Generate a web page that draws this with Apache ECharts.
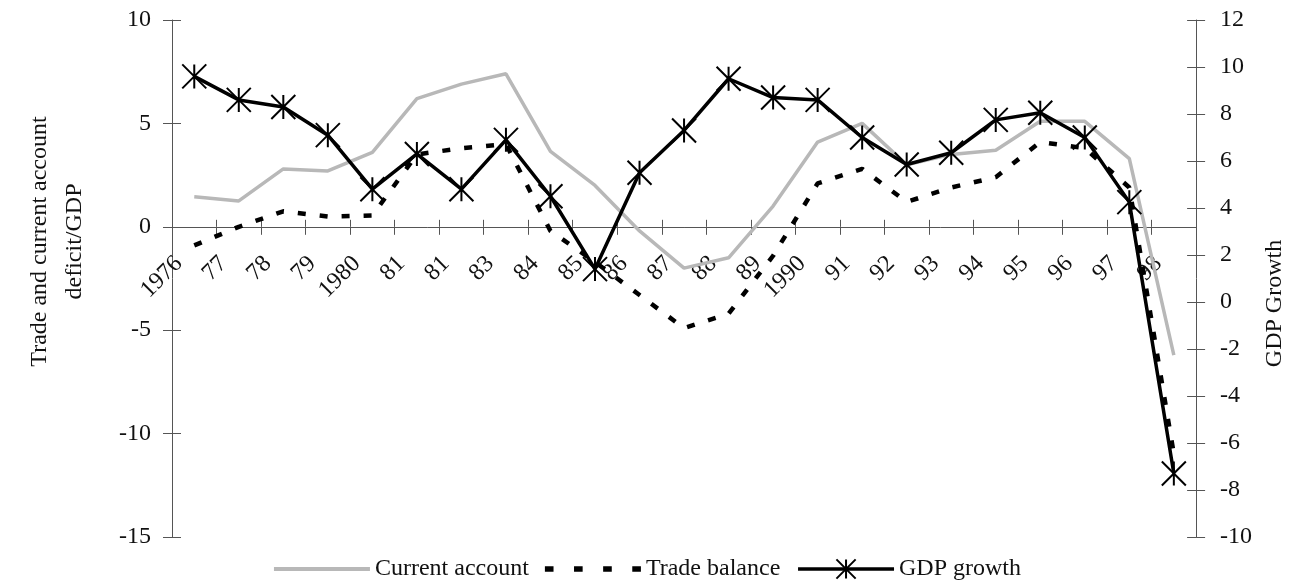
<!DOCTYPE html>
<html>
<head>
<meta charset="utf-8">
<script src="https://cdn.jsdelivr.net/npm/echarts@6/dist/echarts.min.js"></script>
<style>
  html, body { margin: 0; padding: 0; background: #fff; }
  #chart { width: 1295px; height: 586px; }
</style>
</head>
<body>
<div id="chart"></div>
<script>
// ---- data ----
const categories = ['1976','77','78','79','1980','81','81','83','84','85','86','87','88','89','1990','91','92','93','94','95','96','97','98'];
const currentAccount = [1.45, 1.25, 2.8, 2.7, 3.6, 6.2, 6.9, 7.4, 3.65, 2.0, -0.2, -2.0, -1.5, 1.0, 4.1, 5.0, 3.0, 3.5, 3.7, 5.1, 5.1, 3.3, -6.2];
const tradeBalance = [-0.9, 0.0, 0.75, 0.5, 0.55, 3.5, 3.8, 4.0, -0.2, -1.7, -3.3, -4.9, -4.2, -1.4, 2.1, 2.8, 1.2, 1.9, 2.4, 4.1, 3.8, 1.9, -11.0];
const gdpGrowth = [9.6, 8.6, 8.3, 7.1, 4.8, 6.3, 4.8, 6.9, 4.5, 1.4, 5.5, 7.3, 9.5, 8.7, 8.6, 7.0, 5.85, 6.35, 7.75, 8.05, 7.0, 4.25, -7.3];
const leftAxisRange = [-15, 10, 5];   // min, max, interval
const rightAxisRange = [-10, 12, 2];  // min, max, interval
const seriesNames = ['Current account', 'Trade balance', 'GDP growth'];
const leftAxisTitle = 'Trade and current account\ndeficit/GDP';
const rightAxisTitle = 'GDP Growth';

const FONT = '"Liberation Serif", "DejaVu Serif", serif';
const TXT = '#111';
const AX = '#555';
const GREY = '#b8b8b8';
const starPath = 'path://M-10,-10L10,10M-10,10L10,-10M0,-10L0,10';
const barIcon = 'path://M0,0H100V4H0Z';
const dashIcon = 'path://M0,0h8v5h-8zM27,0h8v5h-8zM54,0h8v5h-8zM81,0h8v5h-8z';

const W = 1295, H = 586;
const GRID = { left: 172, right: 97, top: 20, bottom: 49 };

const chart = echarts.init(document.getElementById('chart'), null, { renderer: 'canvas' });

function yAxisBase(range, pos, inside, withLabels) {
  return {
    type: 'value',
    position: pos,
    min: range[0], max: range[1], interval: range[2],
    splitLine: { show: false },
    axisLine: { show: withLabels, onZero: false, lineStyle: { color: AX, width: 1 } },
    axisTick: { show: true, inside: inside, length: 9, lineStyle: { color: AX, width: 1 } },
    axisLabel: { show: withLabels, color: TXT, fontFamily: FONT, fontSize: 24, margin: 21 }
  };
}

const yLeft = Object.assign(yAxisBase(leftAxisRange, 'left', false, true), {
  name: leftAxisTitle, nameLocation: 'middle', nameGap: 80, nameRotate: 90,
  nameTextStyle: { color: TXT, fontFamily: FONT, fontSize: 24, lineHeight: 35, padding: [0, 0, 0, 74] }
});
const yRight = Object.assign(yAxisBase(rightAxisRange, 'right', false, true), {
  name: rightAxisTitle, nameLocation: 'middle', nameGap: 56, nameRotate: 90,
  nameTextStyle: { color: TXT, fontFamily: FONT, fontSize: 24, padding: [0, 50, 0, 0] }
});
yRight.axisLabel.margin = 24;
const yLeftIn = yAxisBase(leftAxisRange, 'left', true, false);
const yRightIn = yAxisBase(rightAxisRange, 'right', true, false);

const option = {
  backgroundColor: '#fff',
  animation: false,
  grid: Object.assign({ containLabel: false }, GRID),
  legend: {
    bottom: 0, left: 'center',
    itemWidth: 96, itemHeight: 24, itemGap: 16,
    textStyle: { color: TXT, fontFamily: FONT, fontSize: 24 },
    data: [
      { name: seriesNames[0], icon: barIcon },
      { name: seriesNames[1], icon: dashIcon },
      { name: seriesNames[2], lineStyle: { width: 3.5, color: '#000' } }
    ]
  },
  xAxis: [
    {
      type: 'category', data: categories, boundaryGap: true,
      axisLine: { onZero: true, onZeroAxisIndex: 0, lineStyle: { color: AX, width: 1 } },
      axisTick: { show: true, length: 8, lineStyle: { color: AX } },
      axisLabel: { show: false },
      splitLine: { show: false }
    },
    {
      type: 'category', data: categories, boundaryGap: true, position: 'bottom',
      axisLine: { show: false, onZero: true, onZeroAxisIndex: 0 },
      axisTick: { show: true, inside: true, length: 7, lineStyle: { color: AX } },
      axisLabel: { show: false },
      splitLine: { show: false }
    },
    {
      type: 'category', data: categories, boundaryGap: true, position: 'bottom', offset: 0,
      axisLine: { show: false, onZero: false },
      axisTick: { show: false },
      axisLabel: { rotate: 45, color: TXT, fontFamily: FONT, fontSize: 24, margin: 37, padding: [0, 22, 0, 0], interval: 0 },
      splitLine: { show: false }
    }
  ],
  yAxis: [yLeft, yRight, yLeftIn, yRightIn],
  series: [
    {
      name: seriesNames[0], type: 'line', data: currentAccount,
      xAxisIndex: 0, yAxisIndex: 0,
      symbol: 'none',
      lineStyle: { color: GREY, width: 3.5 },
      itemStyle: { color: GREY },
      z: 2
    },
    {
      name: seriesNames[1], type: 'line', data: tradeBalance,
      xAxisIndex: 0, yAxisIndex: 0,
      symbol: 'none',
      lineStyle: { color: '#000', width: 4.5, type: [8, 14] },
      itemStyle: { color: '#000' },
      z: 3
    },
    {
      name: seriesNames[2], type: 'line', data: gdpGrowth,
      xAxisIndex: 0, yAxisIndex: 1,
      symbol: starPath, symbolSize: 24, showSymbol: true,
      lineStyle: { color: '#000', width: 3.5 },
      itemStyle: { color: 'rgba(0,0,0,0)', borderColor: '#000', borderWidth: 2 },
      z: 4
    }
  ]
};
chart.setOption(option);

// place the category labels along the zero line of the left axis
const zeroY = chart.convertToPixel({ yAxisIndex: 0 }, 0);
const bottomY = H - GRID.bottom;
chart.setOption({ xAxis: [{}, {}, { offset: zeroY - bottomY }] });
</script>
</body>
</html>
